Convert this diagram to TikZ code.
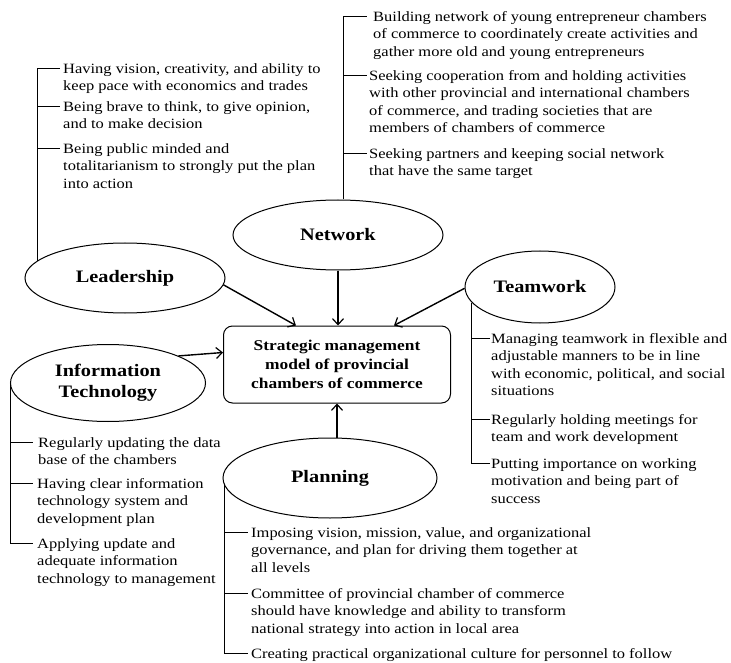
\documentclass[tikz,border=0pt]{standalone}
\usepackage{fontspec}
\setmainfont{Liberation Serif}[FakeStretch=1.16]
\usetikzlibrary{shapes.geometric,arrows.meta,calc}
\begin{document}
\begin{tikzpicture}[x=1pt,y=-1pt,
  item/.style={font=\fontsize{14.2}{17.6}\selectfont, align=left, anchor=north west, inner sep=0pt},
  oval/.style={draw, ellipse, line width=1pt, inner sep=0pt, font=\fontsize{17.5}{21}\selectfont\bfseries, align=center},
  branch/.style={line width=0.8pt},
  arr/.style={line width=1.4pt, -{Straight Barb[length=6pt,width=11pt,line width=1.2pt]}}
]
\useasboundingbox (0,0) rectangle (731,663);

% central box
\node[draw, line width=1pt, rounded corners=9pt, minimum width=227pt, minimum height=77pt,
      font=\fontsize{15}{19}\selectfont\bfseries, align=center] (box) at (337,364.5)
  {Strategic management\\model of provincial\\chambers of commerce};

% ellipses
\node[oval, minimum width=200pt, minimum height=70pt] (lead) at (125,278) {Leadership};
\node[oval, minimum width=210pt, minimum height=70pt] (net) at (338,235) {Network};
\node[oval, minimum width=150pt, minimum height=72pt] (team) at (540,287) {Teamwork};
\node[oval, minimum width=195pt, minimum height=77pt] (it) at (108,383) {Information\\Technology};
\node[oval, minimum width=214pt, minimum height=80pt] (plan) at (330,478) {Planning};

% arrows
\draw[arr] (lead.-4) -- ($(box.north west)!0.32!(box.north east)$);
\draw[arr] (net.south) -- (net.south |- box.north);
\draw[arr] (team.181) -- ($(box.north west)!0.75!(box.north east)$);
\draw[arr] (it.21) -- ([yshift=12pt]box.west);
\draw[arr] (box.south |- plan.north) -- (box.south);

% Leadership branch
\coordinate (lt1) at (60,68);
\coordinate (lt2) at (60,106);
\coordinate (lt3) at (60,148);
\coordinate (lv) at (37,261);
\draw[branch] (lv) |- (lt1);
\draw[branch] (lv |- lt2) -- (lt2);
\draw[branch] (lv |- lt3) -- (lt3);
\node[item] (lx1) at ($(lt1)+(3,-5)$) {Having vision, creativity, and ability to\\keep pace with economics and trades};
\node[item] (lx2) at ($(lt2)+(3,-5)$) {Being brave to think, to give opinion,\\and to make decision};
\node[item] (lx3) at ($(lt3)+(3,-5)$) {Being public minded and\\totalitarianism to strongly put the plan\\into action};

% Network branch
\coordinate (nv) at ($(net.north)+(5,0)$);
\coordinate (nt1) at (367,16);
\coordinate (nt2) at (367,75);
\coordinate (nt3) at (367,153);
\draw[branch] (nv) |- (nt1);
\draw[branch] (nv |- nt2) -- (nt2);
\draw[branch] (nv |- nt3) -- (nt3);
\node[item] (nx1) at ($(nt1)+(6,-5)$) {Building network of young entrepreneur chambers\\of commerce to coordinately create activities and\\gather more old and young entrepreneurs};
\node[item] (nx2) at ($(nt2)+(2,-5)$) {Seeking cooperation from and holding activities\\with other provincial and international chambers\\of commerce, and trading societies that are\\members of chambers of commerce};
\node[item] (nx3) at ($(nt3)+(2,-5)$) {Seeking partners and keeping social network\\that have the same target};

% Teamwork branch
\coordinate (tv) at (team.193);
\coordinate (tt1) at (490,338);
\coordinate (tt2) at (490,419);
\coordinate (tt3) at (490,463);
\draw[branch] (tv) |- (tt3);
\draw[branch] (tv |- tt1) -- (tt1);
\draw[branch] (tv |- tt2) -- (tt2);
\node[item] (tx1) at ($(tt1)+(1,-5)$) {Managing teamwork in flexible and\\adjustable manners to be in line\\with economic, political, and social\\situations};
\node[item] (tx2) at ($(tt2)+(1,-5)$) {Regularly holding meetings for\\team and work development};
\node[item] (tx3) at ($(tt3)+(1,-5)$) {Putting importance on working\\motivation and being part of\\success};

% Information Technology branch
\coordinate (iv) at (it.west);
\coordinate (it1) at (33,442);
\coordinate (it2) at (33,483);
\coordinate (it3) at (33,543);
\draw[branch] (iv) |- (it3);
\draw[branch] (iv |- it1) -- (it1);
\draw[branch] (iv |- it2) -- (it2);
\node[item] (ix1) at ($(it1)+(5,-5)$) {Regularly updating the data\\base of the chambers};
\node[item] (ix2) at ($(it2)+(4,-5)$) {Having clear information\\technology system and\\development plan};
\node[item] (ix3) at ($(it3)+(4,-5)$) {Applying update and\\adequate information\\technology to management};

% Planning branch
\coordinate (pv) at (plan.184);
\coordinate (pt1) at (248,532);
\coordinate (pt2) at (248,593);
\coordinate (pt3) at (248,653);
\draw[branch] (pv) |- (pt3);
\draw[branch] (pv |- pt1) -- (pt1);
\draw[branch] (pv |- pt2) -- (pt2);
\node[item] (px1) at ($(pt1)+(3,-5)$) {Imposing vision, mission, value, and organizational\\governance, and plan for driving them together at\\all levels};
\node[item] (px2) at ($(pt2)+(3,-5)$) {Committee of provincial chamber of commerce\\should have knowledge and ability to transform\\national strategy into action in local area};
\node[item] (px3) at ($(pt3)+(3,-5)$) {Creating practical organizational culture for personnel to follow};
\end{tikzpicture}
\end{document}
